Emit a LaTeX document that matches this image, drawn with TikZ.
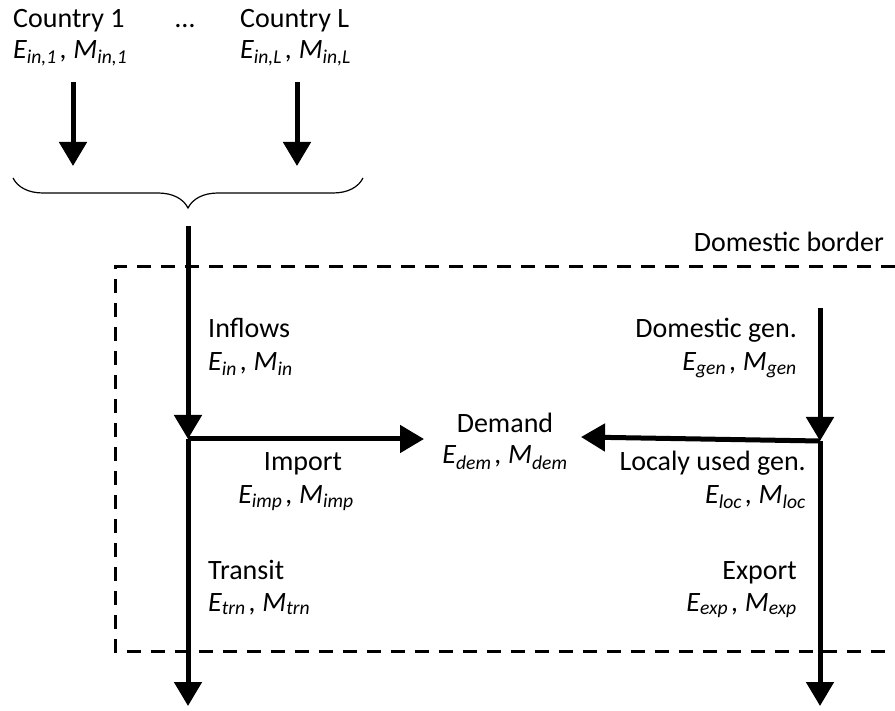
\documentclass[tikz,border=0pt]{standalone}
\usepackage{fontspec}
\setmainfont{Carlito}
\usetikzlibrary{arrows.meta,decorations.pathreplacing}
\newcommand\EMlab[1]{\textit{E\textsubscript{#1}}\hspace{0.12em}\textit{,} \textit{M\textsubscript{#1}}}
\tikzset{
  lbl/.style={inner sep=0pt, font=\fontsize{28}{34}\selectfont},
  flow/.style={line width=5pt, -{Triangle[width=27pt,length=24pt]}},
  flowplain/.style={line width=5pt},
  border/.style={line width=3pt, dash pattern=on 14pt off 10pt},
  bracestyle/.style={line width=1.2pt, decorate, decoration={brace, amplitude=30pt}}
}
\begin{document}
\begin{tikzpicture}[x=1pt,y=-1pt]
\useasboundingbox (0,0) rectangle (895,711);
% top labels
\node[lbl, anchor=base west] (c1) at (13,28) {Country 1};
\node[lbl, anchor=base west] (c1v) at (13,59) {\EMlab{in,1}};
\node[lbl, anchor=base] (dots) at (185,28) {…};
\node[lbl, anchor=base west] (cL) at (240,28) {Country L};
\node[lbl, anchor=base west] (cLv) at (240,59) {\EMlab{in,L}};
% country arrows
\coordinate (a1s) at (73,82);
\coordinate (a1e) at (73,166);
\coordinate (aLs) at (297,82);
\coordinate (aLe) at (297,166);
\draw[flow] (a1s) -- (a1e);
\draw[flow] (aLs) -- (aLe);
% brace
\coordinate (br1) at (363,178);
\coordinate (br2) at (13,178);
\draw[bracestyle] (br1) -- (br2);
% border
\coordinate (bTR) at (895,267);
\coordinate (bTL) at (115,267);
\coordinate (bBL) at (115,651);
\coordinate (bBR) at (895,651);
\draw[border] (bTR) -- (bTL) -- (bBL) -- (bBR);
\node[lbl, anchor=base east] (dom) at (884,252) {Domestic border};
% main left vertical
\coordinate (inS) at (188,226);
\coordinate (jL) at (188,439);
\coordinate (outL) at (188,706);
\draw[flow] (inS) -- (jL);
\draw[flow] (jL) -- (outL);
% right vertical
\coordinate (genS) at (820,308);
\coordinate (jR) at (820,441);
\coordinate (outR) at (820,706);
\draw[flow] (genS) -- (jR);
\draw[flow] (jR) -- (outR);
% demand
\node[lbl, anchor=base] (dem) at (505,433) {Demand};
\node[lbl, anchor=base] (demv) at (505,464) {\EMlab{dem}};
\coordinate (impE) at (424,439);
\coordinate (locE) at (581,437);
\draw[flow] (jL) -- (impE);
\draw[flow] (jR) -- (locE);
% labels
\node[lbl, anchor=base west] (inf) at (208,338) {Inflows};
\node[lbl, anchor=base west] (infv) at (208,371) {\EMlab{in}};
\node[lbl, anchor=base east] (gen) at (797,338) {Domestic gen.};
\node[lbl, anchor=base east] (genv) at (797,371) {\EMlab{gen}};
\node[lbl, anchor=base] (imp) at (303,471) {Import};
\node[lbl, anchor=base] (impv) at (296,503) {\EMlab{imp}};
\node[lbl, anchor=base east] (loc) at (806,471) {Localy used gen.};
\node[lbl, anchor=base east] (locv) at (806,503) {\EMlab{loc}};
\node[lbl, anchor=base west] (trn) at (208,579) {Transit};
\node[lbl, anchor=base west] (trnv) at (208,611) {\EMlab{trn}};
\node[lbl, anchor=base east] (exp) at (797,579) {Export};
\node[lbl, anchor=base east] (expv) at (797,611) {\EMlab{exp}};
\end{tikzpicture}
\end{document}
